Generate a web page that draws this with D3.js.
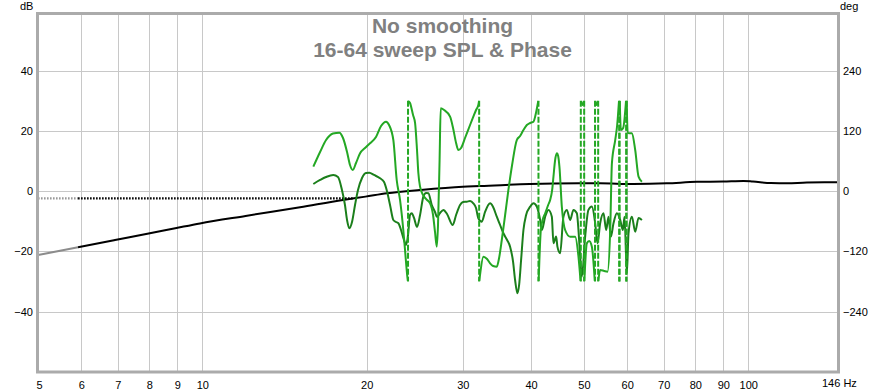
<!DOCTYPE html>
<html>
<head>
<meta charset="utf-8">
<script src="https://cdn.jsdelivr.net/npm/d3@7/dist/d3.min.js"></script>
<style>
  html, body { margin: 0; padding: 0; background: #fff; }
  svg { display: block; }
  text { font-family: "Liberation Sans", Arial, sans-serif; }
</style>
</head>
<body>
<svg id="chart" width="886" height="392"></svg>
<script>
// ---------- data ----------
const titleLines = ["No smoothing", "16-64 sweep SPL & Phase"];
const xGrid = [6, 7, 8, 9, 10, 20, 30, 40, 50, 60, 70, 80, 90, 100];
const xLabels = [5, 6, 7, 8, 9, 10, 20, 30, 40, 50, 60, 70, 80, 90, 100];
const xEndLabel = "146 Hz";
const dbTicks = [-40, -20, 0, 20, 40];
const degTicks = [-240, -120, 0, 120, 240];

// main SPL measurement (black)
const mainFreq = [5, 5.92, 6.92, 7.93, 8.92, 9.9, 12, 15.1, 18.1, 19.9, 21.8, 25, 30, 32.3, 39.8, 49, 53.5, 61.6, 70.9, 80.5, 90, 98, 102, 110, 118, 128, 146];
const mainDb   = [-21.2, -18.6, -16.2, -14.1, -12.3, -10.7, -8.2, -5.3, -2.9, -1.8, -0.7, 0.4, 1.5, 1.7, 2.4, 2.6, 2.6, 2.4, 2.6, 3.1, 3.2, 3.4, 3.2, 2.7, 2.6, 2.9, 2.95];
const mainValidFrom = 5.92; // below this drawn grey

// dotted reference level
const refLevelDb = -2.4;
const refFreq = [5, 18.9];

// 16-64 sweep SPL (dark green)
const sweepFreq = [15.97, 16.43, 16.85, 17.37, 17.72, 18.02, 18.25, 18.41, 18.59, 18.80, 19.04, 19.28, 19.61, 19.94, 20.22, 20.63, 21.16, 21.52, 21.76, 22.07, 22.38, 22.64, 22.86, 23.12, 23.41, 23.61, 23.81, 24.01, 24.19, 24.42, 24.73, 25.05, 25.40, 25.69, 25.94, 26.32, 26.68, 26.91, 27.25, 27.64, 28.07, 28.75, 29.16, 29.65, 30.03, 30.50, 30.93, 31.36, 31.72, 32.03, 32.50, 32.95, 33.66, 34.09, 34.62, 35.11, 35.60, 36.16, 36.62, 37.09, 37.40, 37.77, 38.04, 38.36, 38.74, 39.18, 39.85, 40.41, 41.00, 41.57, 41.87, 42.46, 43.05, 43.67, 43.97, 44.47, 44.71, 45.23, 45.86, 46.52, 47.17, 47.84, 48.53, 48.86, 49.21, 49.56, 50.26, 50.96, 51.70, 52.43, 52.94, 53.54, 54.30, 54.92, 55.46, 56.02, 56.64, 57.46, 58.26, 58.93, 59.33, 59.93, 60.34, 61.21, 62.07, 62.95, 63.86];
const sweepDb   = [2.39, 3.72, 4.71, 5.38, 4.71, 0.40, -4.58, -9.56, -12.31, -10.22, -4.58, 0.40, 4.38, 6.04, 6.14, 5.38, 4.28, 3.05, 0.40, -4.58, -9.56, -10.22, -10.65, -12.88, -16.20, -17.86, -14.54, -7.90, -7.34, -8.89, -11.88, -7.90, -1.83, -0.60, -0.70, -4.58, -6.90, -8.56, -7.24, -6.24, -7.57, -11.22, -7.90, -4.58, -3.58, -3.48, -3.25, -4.02, -5.58, -8.99, -10.12, -6.90, -4.02, -5.24, -8.46, -11.22, -13.97, -16.20, -18.42, -23.50, -29.47, -33.89, -31.13, -22.83, -12.88, -7.90, -5.14, -4.02, -5.14, -9.53, -12.88, -8.45, -6.21, -8.45, -17.29, -15.07, -18.39, -20.61, -8.45, -6.21, -9.53, -6.21, -7.33, -12.88, -21.73, -28.37, -15.07, -6.21, -5.11, -10.65, -17.29, -10.65, -7.33, -12.88, -8.45, -15.07, -10.65, -7.33, -9.53, -12.88, -8.45, -27.27, -13.99, -8.45, -13.44, -8.90, -9.53];

// 16-64 sweep phase (light green, wrapped to +-180 deg)
const phaseFreq = [15.97, 16.43, 16.85, 17.35, 17.82, 18.10, 18.41, 18.64, 18.86, 19.12, 19.45, 19.86, 20.28, 20.80, 21.25, 21.70, 21.98, 22.38, 22.70, 23.02, 23.34, 23.51, 23.74, 23.79,
  23.83, 24.01, 24.32, 24.53, 24.73, 24.87, 25.05, 25.37, 25.80, 26.13, 26.46, 26.68, 26.88, 27.02, 27.20, 27.33, 27.72, 28.43, 28.79, 29.16, 29.44, 29.78, 30.28, 30.93, 31.36, 31.72, 32.03, 32.12,
  32.16, 32.26, 32.72, 33.23, 33.66, 34.09, 34.62, 34.96, 35.36, 35.86, 36.36, 36.93, 37.67, 38.20, 38.74, 39.30, 39.85, 40.41, 40.88, 41.24,
  41.31, 41.69, 42.10, 42.46, 43.00, 43.36, 43.73, 43.97, 44.28, 44.60, 44.85, 45.09, 45.55, 46.19, 47.17, 48.18, 48.86, 49.29,
  49.40, 49.73, 50.01, 50.09, 50.62, 51.11, 51.70, 52.34, 52.45, 52.76, 53.05, 53.14, 53.54, 54.46, 55.22, 55.86, 56.26, 57.05, 57.53, 57.97, 58.07, 58.16, 58.43, 59.00, 59.71, 59.81, 59.88, 60.14, 61.21, 62.07, 62.95, 63.86];
const phaseDeg = [48.8, 78.0, 101.9, 114.9, 116.5, 105.9, 78.0, 52.2, 42.2, 56.1, 75.5, 86.0, 95.4, 107.9, 129.8, 138.4, 131.8, 101.9, 22.3, -17.5, -77.3, -117, -170.2, -178.8,
  179.6, 175.6, 151.5, 135.6, 82.0, 36.2, 9.0, -7.6, -17.5, -24.1, -47.4, -81.2, -110.5, -67.3, 62.1, 165.1, 161.7, 148.3, 125.8, 95.9, 82.0, 86.0, 105.9, 131.8, 148.3, 161.7, 171.6, 179.6,
  -178.8, -166.8, -130.4, -135.0, -143.6, -148.9, -150.3, -133.0, -97.2, -47.4, 2.4, 52.2, 101.9, 109.9, 121.8, 131.8, 135.8, 138.4, 157.7, 179.6,
  -178.8, -77.3, -53.4, -44.0, -27.5, -17.5, 2.4, 28.9, 62.1, 75.5, 70.1, 48.8, -30.9, -77.3, -90.6, -90.6, -130.4, -178.8,
  179.6, 171.6, 179.6, -178.8, -103.7, -99.2, -110.5, -178.8, 179.6, 171.6, 179.6, -178.8, -156.9, -158.9, -160.3, -77.3, 55.5, 101.9, 131.8, 179.6, -178.8, 179.6, 121.8, 125.8, 179.6, -178.8, 179.6, 115.9, 115.3, 82.0, 28.9, 18.9];

// ---------- layout ----------
const svg = d3.select("#chart");
const L = 38, R = 838, T = 14, B = 372;
const x = d3.scaleLog().domain([5, 146]).range([L, R]);
const y = d3.scaleLinear().domain([-60, 58.8]).range([B, T]);
const yDeg = d3.scaleLinear().domain([-360, 352.8]).range([B, T]);

const GRID = "#c8c8c8", FRAME = "#ababab";
const DARK = "#1b7f1b", LIGHT = "#24a824";

svg.append("defs").append("clipPath").attr("id", "clip")
  .append("rect").attr("x", L).attr("y", T).attr("width", R - L).attr("height", B - T);

// grid via axes
const gx = svg.append("g").attr("transform", `translate(0,${B})`)
  .call(d3.axisBottom(x).tickValues(xGrid).tickSize(-(B - T)).tickFormat(""));
const gy = svg.append("g").attr("transform", `translate(${L},0)`)
  .call(d3.axisLeft(y).tickValues(dbTicks).tickSize(-(R - L)).tickFormat(""));
[gx, gy].forEach(g => {
  g.select(".domain").remove();
  g.selectAll("line").attr("stroke", GRID).attr("stroke-width", 1).attr("shape-rendering", "crispEdges");
});

// tick labels via axes
const fmtFont = g => g.selectAll("text").attr("font-size", 11).attr("fill", "#000")
  .attr("font-family", '"Liberation Sans", Arial, sans-serif');
const ax = svg.append("g").attr("transform", `translate(0,${B})`)
  .call(d3.axisBottom(x).tickValues(xLabels).tickSize(0).tickPadding(9).tickFormat(d3.format("d")));
ax.select(".domain").remove(); fmtFont(ax);
ax.selectAll("text").filter(d => d === 5).attr("text-anchor", "start").attr("dx", -2);
svg.append("text").attr("x", x(146) - 16).attr("y", B + 15).attr("font-size", 11).text(xEndLabel);

const al = svg.append("g").attr("transform", `translate(${L},0)`)
  .call(d3.axisLeft(y).tickValues(dbTicks).tickSize(0).tickPadding(5));
al.select(".domain").remove(); fmtFont(al);
const ar = svg.append("g").attr("transform", `translate(${R},0)`)
  .call(d3.axisRight(yDeg).tickValues(degTicks).tickSize(0).tickPadding(5));
ar.select(".domain").remove(); fmtFont(ar);

svg.append("text").attr("x", 20).attr("y", 10).attr("font-size", 11).text("dB");
svg.append("text").attr("x", 840).attr("y", 10).attr("font-size", 11).text("deg");

const plot = svg.append("g").attr("clip-path", "url(#clip)");

// dotted reference line
plot.append("line").attr("x1", x(refFreq[0])).attr("x2", x(mainValidFrom))
  .attr("y1", y(refLevelDb)).attr("y2", y(refLevelDb))
  .attr("stroke", "#999").attr("stroke-width", 2.2).attr("stroke-dasharray", "1.6,1.4");
plot.append("line").attr("x1", x(mainValidFrom)).attr("x2", x(refFreq[1]))
  .attr("y1", y(refLevelDb)).attr("y2", y(refLevelDb))
  .attr("stroke", "#000").attr("stroke-width", 2.2).attr("stroke-dasharray", "1.6,1.4");

// main black SPL
const mainData = mainFreq.map((f, i) => ({ f, v: mainDb[i] }));
const lineDb = d3.line().x(d => x(d.f)).y(d => y(d.v)).curve(d3.curveMonotoneX);
plot.append("path").datum(mainData.filter(d => d.f <= mainValidFrom))
  .attr("d", lineDb).attr("fill", "none").attr("stroke", "#8c8c8c").attr("stroke-width", 2);
plot.append("path").datum(mainData.filter(d => d.f >= mainValidFrom))
  .attr("d", lineDb).attr("fill", "none").attr("stroke", "#000").attr("stroke-width", 2);

// sweep SPL dark green
const sweepData = sweepFreq.map((f, i) => ({ f, v: sweepDb[i] }));
plot.append("path").datum(sweepData).attr("d", lineDb)
  .attr("fill", "none").attr("stroke", DARK).attr("stroke-width", 2).attr("stroke-linejoin", "round");

// phase light green with dashed wrap lines
const phaseData = phaseFreq.map((f, i) => ({ f, v: phaseDeg[i] }));
const segs = []; const wraps = [];
let cur = [phaseData[0]];
for (let i = 1; i < phaseData.length; i++) {
  const a = phaseData[i - 1], b = phaseData[i];
  if (Math.abs(b.v - a.v) > 180) {
    segs.push(cur); cur = [b];
    wraps.push((a.f + b.f) / 2);
  } else cur.push(b);
}
segs.push(cur);
const lineDeg = d3.line().x(d => x(d.f)).y(d => yDeg(d.v)).curve(d3.curveMonotoneX);
plot.selectAll(".wrap").data(wraps).enter().append("line")
  .attr("x1", d => x(d)).attr("x2", d => x(d))
  .attr("y1", yDeg(180)).attr("y2", yDeg(-180))
  .attr("stroke", LIGHT).attr("stroke-width", 2).attr("stroke-dasharray", "6,2");
plot.selectAll(".seg").data(segs.filter(s => s.length > 1)).enter().append("path")
  .attr("d", lineDeg).attr("fill", "none").attr("stroke", LIGHT)
  .attr("stroke-width", 2).attr("stroke-linejoin", "round");

// frame
svg.append("rect").attr("x", L - 0.5).attr("y", T - 0.5).attr("width", R - L + 1).attr("height", B - T + 0.5)
  .attr("fill", "none").attr("stroke", FRAME).attr("stroke-width", 3);

// title
const title = svg.append("text").attr("x", 442.5).attr("y", 33).attr("text-anchor", "middle")
  .attr("font-size", 21).attr("font-weight", "bold").attr("fill", "#808080");
title.selectAll("tspan").data(titleLines).enter().append("tspan")
  .attr("x", 442.5).attr("dy", (d, i) => i === 0 ? 0 : 23.5).text(d => d);
</script>
</body>
</html>
